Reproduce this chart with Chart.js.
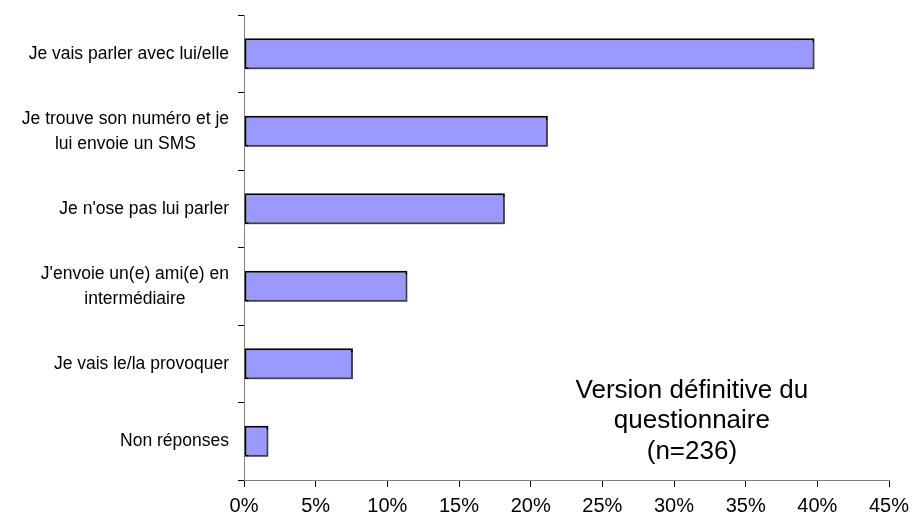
<!DOCTYPE html>
<html>
<head>
<meta charset="utf-8">
<script src="https://cdn.jsdelivr.net/npm/chart.js@4/dist/chart.umd.min.js"></script>
<style>
  html, body { margin: 0; padding: 0; background: #fff; }
  #wrap { width: 912px; height: 522px; }
</style>
</head>
<body>
<div id="wrap"><canvas id="c" width="912" height="522"></canvas></div>
<script>
// Answer categories (multi-line labels as arrays of lines)
const categories = [
  ["Je vais parler avec lui/elle"],
  ["Je trouve son numéro et je", "lui envoie un SMS"],
  ["Je n'ose pas lui parler"],
  ["J'envoie un(e) ami(e) en", "intermédiaire"],
  ["Je vais le/la provoquer"],
  ["Non réponses"]
];
// Share of respondents, in percent
const shares = [39.8, 21.2, 18.2, 11.4, 7.6, 1.7];
// Axis ticks, in percent
const xTicks = [0, 5, 10, 15, 20, 25, 30, 35, 40, 45];
// Note written inside the plot
const note = ["Version définitive du", "questionnaire", "(n=236)"];

const FONT = '"Liberation Sans", Arial, sans-serif';

// Soft grey drop shadow behind the bars
const barShadow = {
  id: 'barShadow',
  beforeDatasetsDraw(chart) {
    const ctx = chart.ctx;
    ctx.save();
    ctx.shadowColor = 'rgba(120,120,120,0.55)';
    ctx.shadowOffsetX = 2;
    ctx.shadowOffsetY = 2;
    ctx.shadowBlur = 0;
  },
  afterDatasetsDraw(chart) {
    chart.ctx.restore();
  }
};

// Category labels: each block right-aligned, its lines centred within the block
const catLabels = {
  id: 'catLabels',
  afterDraw(chart) {
    const { ctx } = chart;
    const y = chart.scales.y;
    ctx.save();
    ctx.font = '17.5px ' + FONT;
    ctx.fillStyle = '#000';
    ctx.textBaseline = 'middle';
    ctx.textAlign = 'center';
    const right = y.right - 15;
    categories.forEach((lines, i) => {
      const yc = y.getPixelForValue(i);
      const w = Math.max(...lines.map(l => ctx.measureText(l).width));
      const cx = right - w / 2;
      lines.forEach((l, j) => {
        ctx.fillText(l, cx, yc + (j - (lines.length - 1) / 2) * 25);
      });
    });
    ctx.restore();
  }
};

// Sample note in the lower right of the plot
const notePlugin = {
  id: 'notePlugin',
  afterDraw(chart) {
    const { ctx, chartArea } = chart;
    ctx.save();
    ctx.font = '26px ' + FONT;
    ctx.fillStyle = '#000';
    ctx.textAlign = 'center';
    ctx.textBaseline = 'middle';
    const cx = chart.scales.x.getPixelForValue(31.25);
    const top = chartArea.top + (chartArea.bottom - chartArea.top) * 0.808;
    note.forEach((l, i) => ctx.fillText(l, cx, top + i * 30.5));
    ctx.restore();
  }
};

new Chart(document.getElementById('c'), {
  type: 'bar',
  data: {
    labels: categories,
    datasets: [{
      data: shares,
      backgroundColor: '#9999FF',
      borderColor: '#000',
      borderWidth: 2,
      borderSkipped: false,
      categoryPercentage: 1,
      barPercentage: 0.4
    }]
  },
  options: {
    indexAxis: 'y',
    responsive: false,
    animation: false,
    devicePixelRatio: 1,
    layout: { padding: { top: 15, right: 23, left: 0, bottom: 0 } },
    plugins: {
      legend: { display: false },
      tooltip: { enabled: false }
    },
    scales: {
      y: {
        type: 'category',
        ticks: { display: false },
        grid: { drawOnChartArea: false, drawTicks: true, tickLength: 6, color: '#000', offset: true },
        border: { color: '#808080', width: 1 },
        afterFit: s => { s.width = 244; }
      },
      x: {
        type: 'linear',
        min: xTicks[0],
        max: xTicks[xTicks.length - 1],
        afterBuildTicks: s => { s.ticks = xTicks.map(v => ({ value: v })); },
        ticks: {
          callback: v => v + '%',
          color: '#000',
          font: { size: 20, family: FONT },
          padding: 7,
          maxRotation: 0,
          autoSkip: false
        },
        grid: { drawOnChartArea: false, drawTicks: true, tickLength: 7, color: '#000' },
        border: { color: '#808080', width: 1 },
        afterFit: s => { s.height = 42; s.paddingLeft = 0; s.paddingRight = 0; }
      }
    }
  },
  plugins: [barShadow, catLabels, notePlugin]
});
</script>
</body>
</html>
